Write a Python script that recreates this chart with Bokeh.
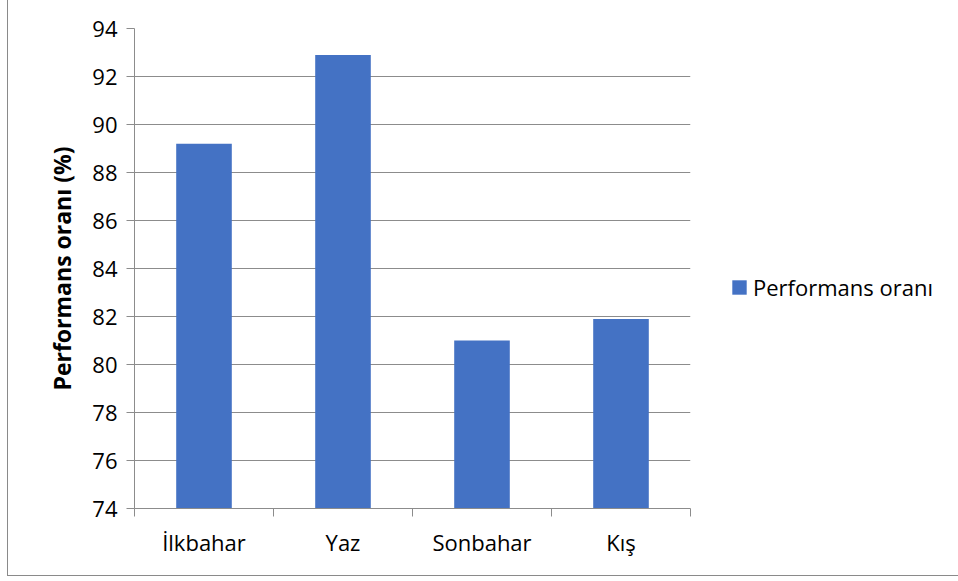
from bokeh.plotting import figure
from bokeh.models import Range1d, FixedTicker, Legend, LegendItem
from bokeh.embed import file_html
from bokeh.resources import INLINE

categories = ["İlkbahar", "Yaz", "Sonbahar", "Kış"]
values = [89.2, 92.9, 81.0, 81.9]
y_ticks = [74, 76, 78, 80, 82, 84, 86, 88, 90, 92, 94]
series_name = "Performans oranı"
y_label = "Performans oranı (%)"

FONT = "Open Sans"
AXIS_GRAY = "#8c8c8c"
BAR_COLOR = "#4472C4"

x_pos = [i + 0.5 for i in range(len(categories))]

p = figure(frame_width=556, frame_height=480, output_backend="svg", toolbar_location=None,
           x_range=Range1d(0, len(categories)),
           y_range=Range1d(y_ticks[0], y_ticks[-1]),
           min_border_left=126, min_border_right=269,
           min_border_top=28, min_border_bottom=67)
p.styles = {"border-left": "1px solid #8a8a8a", "border-bottom": "1px solid #8a8a8a",
            "margin-left": "7px"}
p.outline_line_color = None
p.background_fill_color = "white"
p.border_fill_color = "white"

r = p.vbar(x=x_pos, top=values, bottom=y_ticks[0], width=0.4,
           fill_color=BAR_COLOR, line_color=None)

# x axis
p.xaxis.ticker = FixedTicker(ticks=x_pos, minor_ticks=list(range(len(categories) + 1)))
p.xaxis.major_label_overrides = {xv: c for xv, c in zip(x_pos, categories)}
p.xaxis.major_tick_line_color = None
p.xaxis.minor_tick_line_color = AXIS_GRAY
p.xaxis.minor_tick_out = 8
p.xaxis.minor_tick_in = 0
p.xaxis.axis_line_color = AXIS_GRAY
p.xaxis.major_label_text_font = FONT
p.xaxis.major_label_text_font_size = "22px"
p.xaxis.major_label_text_color = "black"
p.xaxis.major_label_standoff = 10
p.xgrid.visible = False

# y axis
p.yaxis.ticker = FixedTicker(ticks=y_ticks)
p.yaxis.minor_tick_line_color = None
p.yaxis.major_tick_line_color = AXIS_GRAY
p.yaxis.major_tick_out = 8
p.yaxis.major_tick_in = 0
p.yaxis.axis_line_color = AXIS_GRAY
p.yaxis.major_label_text_font = FONT
p.yaxis.major_label_text_font_size = "22px"
p.yaxis.major_label_text_color = "black"
p.yaxis.major_label_standoff = 9
p.yaxis.axis_label = y_label
p.yaxis.axis_label_text_font = FONT
p.yaxis.axis_label_text_font_size = "23px"
p.yaxis.axis_label_text_font_style = "bold"
p.yaxis.axis_label_text_color = "black"
p.yaxis.axis_label_standoff = 11
p.ygrid.ticker = FixedTicker(ticks=y_ticks)
p.ygrid.grid_line_color = AXIS_GRAY

legend = Legend(items=[LegendItem(label=series_name, renderers=[r])],
                location=(40, 206), padding=0, margin=0, spacing=0,
                glyph_width=18, glyph_height=18, label_standoff=5,
                label_text_font=FONT, label_text_font_size="22px",
                label_text_color="black",
                border_line_color=None, background_fill_alpha=0)
p.add_layout(legend, "right")

open("out.html", "w").write(file_html(p, INLINE))
